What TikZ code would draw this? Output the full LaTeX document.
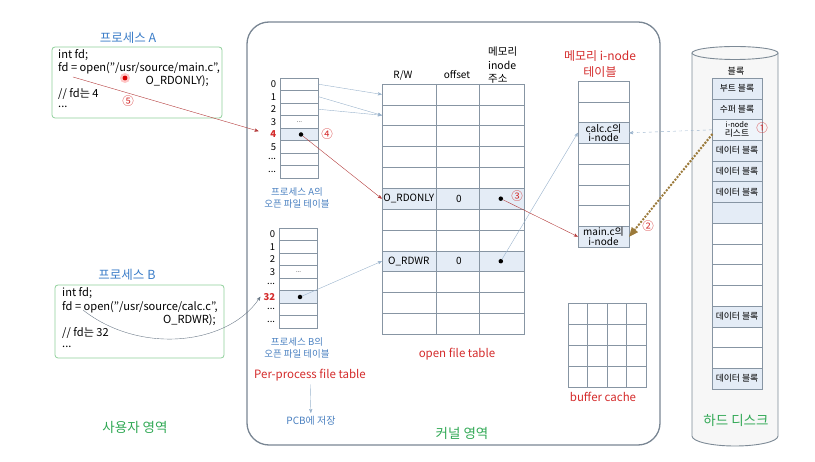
\documentclass[tikz,border=0pt]{standalone}
\usepackage{fontspec}
\setmainfont{Noto Sans CJK KR}
\usepackage{tikz}
\usetikzlibrary{arrows.meta,positioning,shapes.geometric,calc}
\definecolor{gridgray}{HTML}{8795A3}
\definecolor{cellfill}{HTML}{E4ECF6}
\definecolor{titleblue}{HTML}{3B7DC8}
\definecolor{capblue}{HTML}{4A80C0}
\definecolor{numred}{HTML}{D42C2C}
\definecolor{arrowred}{HTML}{B33A3A}
\definecolor{liteblue}{HTML}{9AB3CC}
\definecolor{areagreen}{HTML}{30A854}
\definecolor{boxgreen}{HTML}{8FCF9A}
\definecolor{diskgray}{HTML}{7D8A96}
\definecolor{dotbrown}{HTML}{9B7A3A}
\definecolor{curvegray}{HTML}{6B7A88}
\newcommand{\tdots}{...}

\begin{document}
\begin{tikzpicture}[x=1pt,y=-1pt,
	font=\fontsize{10}{11}\selectfont,
	>={Stealth[round]},
	pcell/.style={rectangle, draw=gridgray, minimum width=38pt, minimum height=12.5pt, inner sep=0pt},
	ocell/.style={rectangle, draw=gridgray, minimum width=142pt, minimum height=20.85pt, inner sep=0pt},
	icell/.style={rectangle, draw=gridgray, minimum width=51pt, minimum height=20.75pt, inner sep=0pt, align=center, font=\fontsize{10}{9.5}\selectfont},
	dcell/.style={rectangle, draw=gridgray, minimum width=50pt, minimum height=20.73pt, inner sep=0pt, align=center, font=\fontsize{8.8}{9}\selectfont},
	bcell/.style={rectangle, draw=gridgray, minimum width=19.5pt, minimum height=21pt, inner sep=0pt},
	idx/.style={anchor=east, inner sep=1pt, font=\fontsize{9.5}{10}\selectfont},
	code/.style={anchor=west, inner sep=0pt, font=\fontsize{11.1}{12}\selectfont},
	num/.style={text=numred, inner sep=0pt, font=\fontsize{11.5}{11.5}\selectfont},
	area/.style={text=areagreen, font=\fontsize{13.5}{14}\selectfont},
	captext/.style={text=capblue, align=center, font=\fontsize{9.5}{11.5}\selectfont},
	title/.style={text=titleblue, font=\fontsize{12.5}{13}\selectfont},
	redtext/.style={text=numred, font=\fontsize{11.5}{12}\selectfont},
	ptr/.style={circle, fill=black, inner sep=0pt, minimum size=4.5pt},
	lite/.style={->, liteblue, thin},
	redline/.style={->, arrowred, thin},
]
\useasboundingbox (0,0) rectangle (815,462);

% kernel area
\draw[gridgray!90!black, line width=1.3pt, rounded corners=22pt] (247,22) rectangle (660,445);

% process A
\node[title] (ta) at (128,38) {프로세스 A};
\draw[boxgreen, line width=0.8pt, rounded corners=3pt] (52,47) rectangle (222,118);
\node[code] (a1) at (58,55) {int fd;};
\node[code] (a2) at (58,68) {fd = open("/usr/source/main.c",};
\node[code, anchor=east] (a3) at (209,81) {O\_RDONLY);};
\node[code] (a4) at (58,94) {// fd는 4};
\node[code] (a5) at (58,107) {\tdots};
\fill[red!22] (125,78) circle (5);
\fill[red!85!black] (125,78) circle (2.4);
\node[num] (n5) at (128,101) {⑤};
\coordinate (fdA) at (73,77);

% process B
\node[title] (tb) at (127,275) {프로세스 B};
\draw[boxgreen, line width=0.8pt, rounded corners=3pt] (55,285) rectangle (224,358);
\node[code] (b1) at (62,293) {int fd;};
\node[code] (b2) at (62,307) {fd = open("/usr/source/calc.c",};
\node[code, anchor=east] (b3) at (216,320) {O\_RDWR);};
\node[code] (b4) at (62,333) {// fd는 32};
\node[code] (b5) at (62,347) {\tdots};
\coordinate (fdB) at (83,310);

% per-process file tables
\foreach \i/\f in {0/white,1/white,2/white,3/white,4/cellfill,5/white,6/white,7/white}
	\node[pcell, fill=\f] (pa\i) at (299.5,{84.25+12.5*\i}) {};
\foreach \i/\t in {0/0,1/1,2/2,3/3,5/5,6/\tdots,7/\tdots}
	\node[idx] (la\i) at ([xshift=-3pt]pa\i.west) {\t};
\node[idx, text=numred, font=\bfseries\fontsize{9.5}{10}\selectfont] (la4) at ([xshift=-3pt]pa4.west) {4};
\node[font=\fontsize{6}{6}\selectfont, inner sep=0pt] (da3) at (pa3) {\tdots};
\node[ptr] (pta) at (301,134.5) {};
\node[num] (n4) at (327,134) {④};
\node[captext] (capa) at (297,198) {프로세스 A의\\오픈 파일 테이블};

\foreach \i/\f in {0/white,1/white,2/white,3/white,4/white,5/cellfill,6/white,7/white}
	\node[pcell, fill=\f] (pb\i) at (298.5,{234.25+12.5*\i}) {};
\foreach \i/\t in {0/0,1/1,2/2,3/3,4/\tdots,6/\tdots,7/\tdots}
	\node[idx] (lb\i) at ([xshift=-3pt]pb\i.west) {\t};
\node[idx, text=numred, font=\bfseries\fontsize{9.5}{10}\selectfont] (lb5) at ([xshift=-3pt]pb5.west) {32};
\node[font=\fontsize{6}{6}\selectfont, inner sep=0pt] (db3) at (pb3) {\tdots};
\node[ptr] (ptb) at (300,297) {};
\node[captext] (capb) at (297,348) {프로세스 B의\\오픈 파일 테이블};
\node[redtext] (ppt) at (310,375) {Per-process file table};
\node[text=capblue, font=\fontsize{10}{11}\selectfont] (pcb) at (311,421) {PCB에 저장};
\draw[lite] (ppt) -- (pcb);

% open file table
\foreach \i/\f in {0/white,1/white,2/white,3/white,4/white,5/cellfill,6/white,7/white,8/cellfill,9/white,10/white,11/white}
	\node[ocell, fill=\f] (of\i) at (453,{94.425+20.85*\i}) {};
\foreach \c in {54,97}
	\draw[gridgray] ([xshift=\c pt]of0.north west) -- ([xshift=\c pt]of11.south west);
\node (hrw) at (403,75) {R/W};
\node (hoff) at (457,75) {offset};
\node[align=left, anchor=north west, inner sep=0pt, font=\fontsize{10.5}{13.5}\selectfont] (hino) at (488,47) {메모리\\inode\\주소};
\node (rw5) at ([xshift=27pt]of5.west) {O\_RDONLY};
\node (off5) at ([xshift=77pt]of5.west) {0};
\node[ptr] (pt5) at ([xshift=119pt]of5.west) {};
\node (rw8) at ([xshift=27pt]of8.west) {O\_RDWR};
\node (off8) at ([xshift=77pt]of8.west) {0};
\node[ptr] (pt8) at ([xshift=119pt]of8.west) {};
\node[num] (n3) at (517,196) {③};
\node[redtext] (oft) at (457,354) {open file table};

% memory i-node table
\node[text=numred, align=center, font=\fontsize{12}{16}\selectfont] (tin) at (600,64) {메모리 i-node\\테이블};
\foreach \i/\f/\t in {0/white/,1/white/,2/cellfill/{calc.c의\\i-node},3/white/,4/white/,5/white/,6/white/,7/cellfill/{main.c의\\i-node}}
	\node[icell, fill=\f] (in\i) at (603.5,{91.375+20.75*\i}) {\t};
\node[num] (n2) at (648,226) {②};

% buffer cache
\foreach \r in {0,...,3}
	\foreach \c in {0,...,3}
		\node[bcell] (bc\r\c) at ({577.75+19.5*\c},{313.5+21*\r}) {};
\node[redtext] (bct) at (603,397) {buffer cache};

% hard disk
\filldraw[diskgray, fill=gray!6, line width=0.9pt] (692,53) -- (692,436) arc[start angle=180, end angle=0, x radius=43, y radius=10] -- (778,53);
\filldraw[diskgray, fill=gray!6, line width=0.9pt] (735,53) ellipse [x radius=43, y radius=6.5];
\node[font=\fontsize{9}{10}\selectfont] (blk) at (736,71) {블록};
\foreach \i/\f/\t in {0/cellfill/부트 블록,1/cellfill/수퍼 블록,2/cellfill!60/{\fontsize{7.5}{8}\selectfont i-node\\리스트},3/cellfill/데이터 블록,4/cellfill/데이터 블록,5/cellfill/데이터 블록,6/cellfill/,7/white/,8/white/,9/white/,10/white/,11/cellfill/데이터 블록,12/white/,13/white/,14/cellfill/데이터 블록}
	\node[dcell, fill=\f] (dk\i) at (737,{88.365+20.73*\i}) {\t};
\node[num] (n1) at (762,128) {①};
\node[area] (hdd) at (736,420) {하드 디스크};

% area labels
\node[area] (usr) at (135,427) {사용자 영역};
\node[area] (krn) at (462,433) {커널 영역};

% connectors
\draw[redline, shorten >=11pt] (fdA) -- (la4.west);
\draw[->, curvegray, thin] (fdB) .. controls (140,355) and (228,345) .. ([xshift=-2pt]lb5.west);
\draw[lite] (pa0.east) -- (of0.west);
\draw[lite] (pa1.east) -- (of1.west);
\draw[lite] (pa2.east) -- (of1.west);
\draw[redline] (pta) -- (of5.west);
\draw[lite] (ptb) -- (of8.west);
\draw[redline] (pt5) -- (in7.west);
\draw[lite] (pt8) -- (in2.west);
\draw[->, liteblue, dashed, thin] (dk2.west) -- (in2.east);
\draw[dotbrown, line width=2.8pt, line cap=round, dash pattern=on 0pt off 3.4pt, shorten >=5pt] ([yshift=-5pt]dk2.west) -- (in7.east);
\draw[-{Triangle[length=9pt,width=8pt]}, dotbrown, line width=0.1pt] ($([yshift=-5pt]dk2.west)!0.9!(in7.east)$) -- (in7.east);
\end{tikzpicture}
\end{document}
